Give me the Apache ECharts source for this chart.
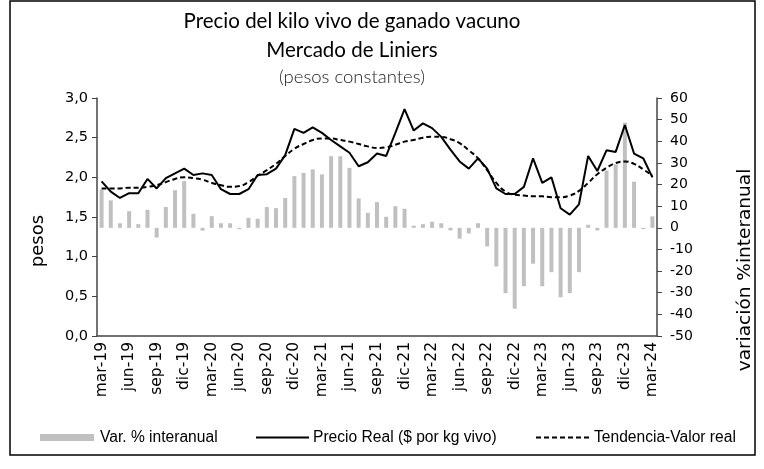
<!DOCTYPE html>
<html><head><meta charset="utf-8">
<script src="https://cdn.jsdelivr.net/npm/echarts@6/dist/echarts.min.js"></script>
<style>html,body{margin:0;padding:0;background:#fff}#c{width:764px;height:469px}</style>
</head><body><div id="c"></div>
<script>
const months = ['ene','feb','mar','abr','may','jun','jul','ago','sep','oct','nov','dic'];
const categories = [];
for (let y = 19; y <= 24; y++) for (let m = 0; m < 12; m++) {
  if ((y === 19 && m < 2) || (y === 24 && m > 2)) continue;
  categories.push(months[m] + '-' + y);
}
const varInteranual = [17.7,12.7,2.1,7.7,1.7,8.3,-4.5,9.6,17.4,21.6,6.5,-1.3,5.4,2.1,2.1,-0.6,4.6,4.2,9.6,9.1,13.8,
  23.9,25.4,27.0,24.7,33.1,33.1,27.7,13.6,6.9,11.9,5.1,10.0,8.8,1.0,1.7,2.8,2.1,-1.2,-5.0,-2.6,2.1,
  -8.6,-17.9,-30.2,-37.4,-27.0,-16.6,-27.0,-20.5,-32.1,-30.2,-20.5,1.4,-1.2,26.5,29.3,48.6,21.3,-0.6,5.3];
const precioReal = [1.95,1.82,1.74,1.80,1.80,1.98,1.86,1.99,2.05,2.11,2.03,2.05,2.03,1.85,1.79,1.79,1.85,2.03,2.04,2.11,2.28,
  2.61,2.56,2.63,2.56,2.47,2.39,2.31,2.14,2.19,2.30,2.27,2.56,2.86,2.59,2.68,2.62,2.51,2.35,2.20,2.11,2.24,
  2.11,1.86,1.79,1.79,1.88,2.24,1.93,2.00,1.61,1.53,1.66,2.27,2.08,2.34,2.32,2.66,2.30,2.24,2.00];
const tendencia = [1.86,1.86,1.86,1.87,1.87,1.88,1.90,1.94,1.98,2.00,1.99,1.97,1.93,1.90,1.88,1.89,1.94,2.02,2.09,2.17,2.27,
  2.36,2.42,2.47,2.49,2.49,2.47,2.45,2.42,2.39,2.37,2.38,2.41,2.45,2.47,2.50,2.51,2.51,2.48,2.43,2.34,2.24,
  2.09,1.93,1.82,1.78,1.77,1.76,1.76,1.75,1.75,1.77,1.83,1.93,2.04,2.12,2.18,2.20,2.17,2.10,2.02];
const titleLines = ['Precio del kilo vivo de ganado vacuno', 'Mercado de Liniers', '(pesos constantes)'];
const leftAxisName = 'pesos';
const rightAxisName = 'variación %interanual';
const legendNames = ['Var. % interanual', 'Precio Real ($ por kg vivo)', 'Tendencia-Valor real'];

const F = 'Lato, "Open Sans", sans-serif';
const D = '"DejaVu Sans", sans-serif';
const L = '"Liberation Sans", Arial, sans-serif';
const txt = (x, y, text, font, size, extra) => ({
  type: 'text', x: x, y: y, silent: true,
  style: Object.assign({text: text, fontFamily: font, fontSize: size, fill: '#000', textAlign: 'center', textVerticalAlign: 'middle'}, extra || {})
});

const chart = echarts.init(document.getElementById('c'), null, {renderer: 'canvas'});
chart.setOption({
  animation: false,
  backgroundColor: '#fff',
  graphic: [
    {type: 'rect', shape: {x: 10, y: 1, width: 745, height: 454}, style: {fill: 'none', stroke: '#000', lineWidth: 1.5}, silent: true},
    txt(352, 21, titleLines[0], F, 20.5),
    txt(352, 50, titleLines[1], F, 20.5),
    txt(352, 77, titleLines[2], F, 18.5, {fontWeight: 300, fill: '#222'}),
    Object.assign(txt(38, 241, leftAxisName, D, 18), {rotation: Math.PI / 2}),
    Object.assign(txt(745, 270, rightAxisName, D, 18.5), {rotation: Math.PI / 2}),
    {type: 'rect', shape: {x: 40, y: 434, width: 54, height: 7}, style: {fill: '#c0c0c0'}, silent: true},
    {type: 'text', x: 100, y: 438, silent: true, style: {text: legendNames[0], fontFamily: L, fontSize: 15.6, fill: '#000', textVerticalAlign: 'middle'}},
    {type: 'line', shape: {x1: 256, y1: 437.5, x2: 309, y2: 437.5}, style: {stroke: '#000', lineWidth: 2}, silent: true},
    {type: 'text', x: 313, y: 438, silent: true, style: {text: legendNames[1], fontFamily: L, fontSize: 15.6, fill: '#000', textVerticalAlign: 'middle'}},
    {type: 'line', shape: {x1: 536, y1: 437.5, x2: 590, y2: 437.5}, style: {stroke: '#000', lineWidth: 2, lineDash: [5, 3]}, silent: true},
    {type: 'text', x: 594, y: 438, silent: true, style: {text: legendNames[2], fontFamily: L, fontSize: 15.6, fill: '#000', textVerticalAlign: 'middle'}}
  ],
  grid: {left: 97, right: 107, top: 98, bottom: 133},
  xAxis: {
    type: 'category', data: categories, boundaryGap: true,
    axisLine: {lineStyle: {color: '#444', width: 1.5}},
    axisTick: {interval: 2, length: 5, lineStyle: {color: '#444'}},
    axisLabel: {interval: 2, rotate: 90, fontFamily: D, fontSize: 15.5, color: '#000', margin: 6}
  },
  yAxis: [{
    type: 'value', min: 0, max: 3, interval: 0.5, position: 'left',
    axisLine: {show: true, lineStyle: {color: '#444', width: 1.5}},
    axisTick: {show: true, length: 5, lineStyle: {color: '#444'}},
    splitLine: {show: false},
    axisLabel: {fontFamily: D, fontSize: 14.5, color: '#000', margin: 9, formatter: v => v.toFixed(1).replace('.', ',')}
  }, {
    type: 'value', min: -50, max: 60, interval: 10, position: 'right',
    axisLine: {show: true, lineStyle: {color: '#444', width: 1.5}},
    axisTick: {show: true, length: 5, lineStyle: {color: '#444'}},
    splitLine: {show: false},
    axisLabel: {fontFamily: D, fontSize: 14, color: '#000', margin: 13}
  }],
  series: [{
    name: legendNames[0], type: 'bar', yAxisIndex: 1, data: varInteranual,
    barWidth: 4, itemStyle: {color: '#c0c0c0'}
  }, {
    name: legendNames[1], type: 'line', yAxisIndex: 0, data: precioReal,
    symbol: 'none', lineStyle: {color: '#000', width: 2}, itemStyle: {color: '#000'}
  }, {
    name: legendNames[2], type: 'line', yAxisIndex: 0, data: tendencia, smooth: true,
    symbol: 'none', lineStyle: {color: '#000', width: 2, type: [5, 3]}, itemStyle: {color: '#000'}
  }]
});
</script></body></html>
